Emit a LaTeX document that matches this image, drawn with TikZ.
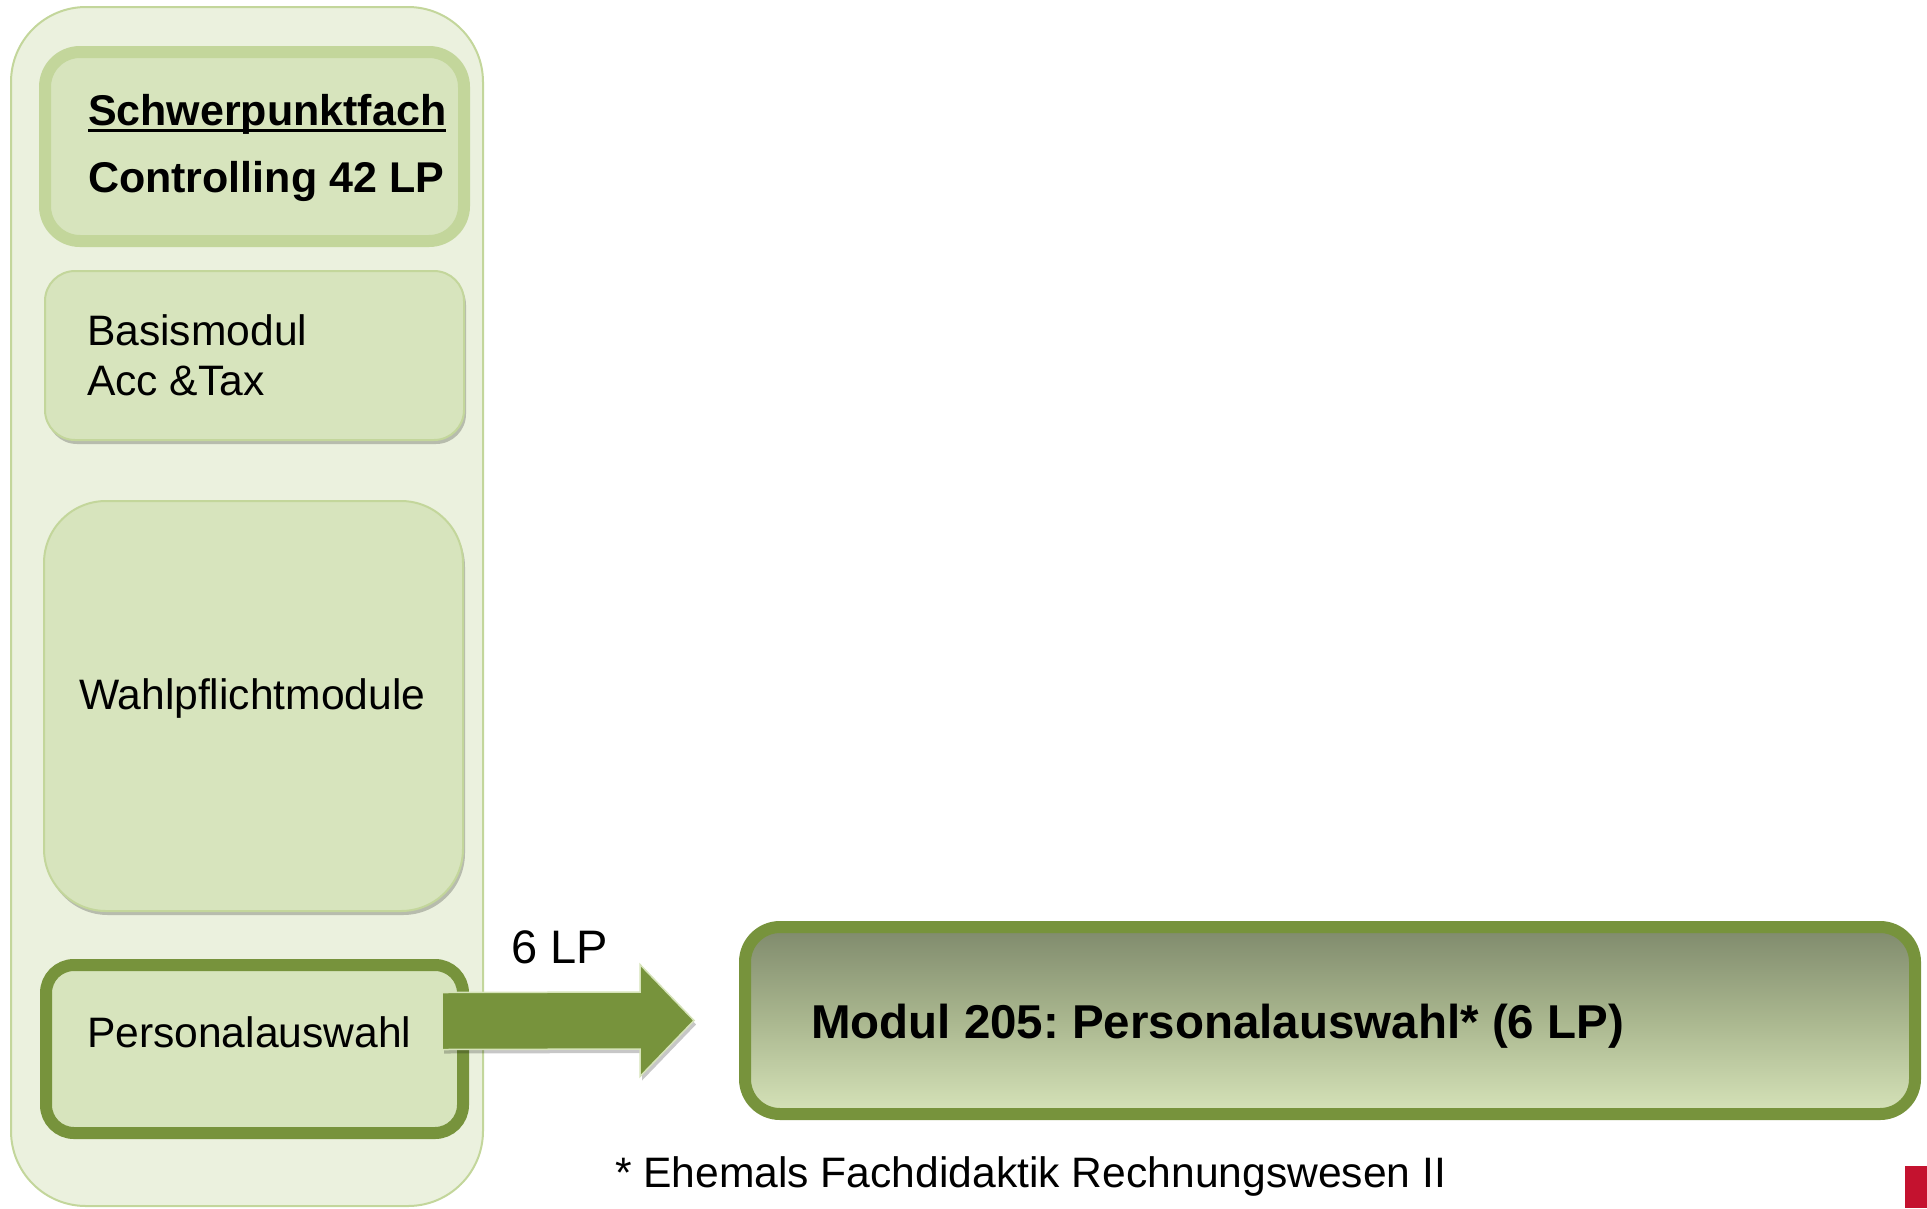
\documentclass[tikz,border=0pt]{standalone}
\usepackage{fontspec}
\setmainfont{Liberation Sans}
\usetikzlibrary{calc,shadows}
\definecolor{contfill}{HTML}{EBF1DE}
\definecolor{lightolive}{HTML}{C3D69B}
\definecolor{boxfill}{HTML}{D7E4BD}
\definecolor{darkolive}{HTML}{77933C}
\definecolor{gradtop}{HTML}{7F8A6C}
\definecolor{gradmid}{HTML}{AAB78F}
\definecolor{gradbot}{HTML}{D6E3B9}
\definecolor{unired}{HTML}{C4122F}
\frenchspacing
\tikzset{
  every node/.style={inner sep=0pt, outer sep=0pt},
  txt/.style={font=\fontsize{42.6}{48}\selectfont, anchor=base west, text=black},
  btxt/.style={font=\fontsize{43}{48}\selectfont\bfseries, anchor=base west, text=black},
  shad/.style={drop shadow={shadow xshift=2pt, shadow yshift=-4pt, opacity=0.22, fill=black}},
  modbox/.style={rectangle, draw=lightolive, fill=boxfill, line width=2pt, shad},
  thickbox/.style={rectangle, fill=boxfill, line width=12pt, shad},
}
\begin{document}
\begin{tikzpicture}[x=1pt,y=-1pt]
\useasboundingbox (0,0) rectangle (1927,1208);
% container
\node (cont) [rectangle, draw=lightolive, fill=contfill, line width=2pt, rounded corners=75pt,
  minimum width=472pt, minimum height=1199pt] at (247,606.5) {};
% top box
\node (top) [thickbox, draw=lightolive, rounded corners=35pt, minimum width=419pt, minimum height=189pt] at (254.5,146.5) {};
\node (sp) [btxt] at (88,125) {Schwerpunktfach};
\draw[line width=3pt] ([yshift=-5pt]sp.base west) -- ([yshift=-5pt]sp.base east);
\node (ctrl) [btxt] at (88,192) {Controlling 42 LP};
% Basismodul
\node (bas) [modbox, rounded corners=30pt, minimum width=419pt, minimum height=169pt] at (254.5,355.5) {};
\node (bas1) [txt] at (87,345) {Basismodul};
\node (bas2) [txt] at (87,395) {Acc \&Tax};
% Wahlpflicht
\node (wahl) [modbox, rounded corners=62pt, minimum width=419pt, minimum height=410pt] at (253.5,706) {};
\node (wahlt) [txt] at (79,709) {Wahlpflichtmodule};
% Personalauswahl
\node (pa) [thickbox, draw=darkolive, rounded corners=28pt, minimum width=417pt, minimum height=168pt] at (254.5,1049) {};
\node (pat) [txt] at (87,1047) {Personalauswahl};
% Modul box
\node (mod) [rectangle, draw=darkolive, line width=12pt, rounded corners=35pt, top color=gradtop, bottom color=gradbot, middle color=gradmid,
  shad, minimum width=1170pt, minimum height=187pt] at (1330,1020.5) {};
\node (modt) [btxt, font=\fontsize{47.5}{52}\selectfont\bfseries] at (811,1038) {Modul 205: Personalauswahl* (6 LP)};
% arrow
\coordinate (as) at (442,1021);
\coordinate (at) at ($(mod.west)+(-51,0)$);
\fill[darkolive, draw=gradbot, line width=1.5pt, shad]
  ($(as)+(0,-28.5)$) -- ($(at)+(-54,-28.5)$) -- ($(at)+(-54,-56)$) -- (at)
  -- ($(at)+(-54,56)$) -- ($(at)+(-54,28.5)$) -- ($(as)+(0,28.5)$) -- cycle;
\node (lp) [txt, font=\fontsize{47}{52}\selectfont] at (511,963) {6 LP};
% footnote
\node (fn) [txt] at (615,1187) {* Ehemals Fachdidaktik Rechnungswesen II};
% logo corner
\fill[unired] (1905,1166) rectangle (1927,1208);
\end{tikzpicture}
\end{document}
